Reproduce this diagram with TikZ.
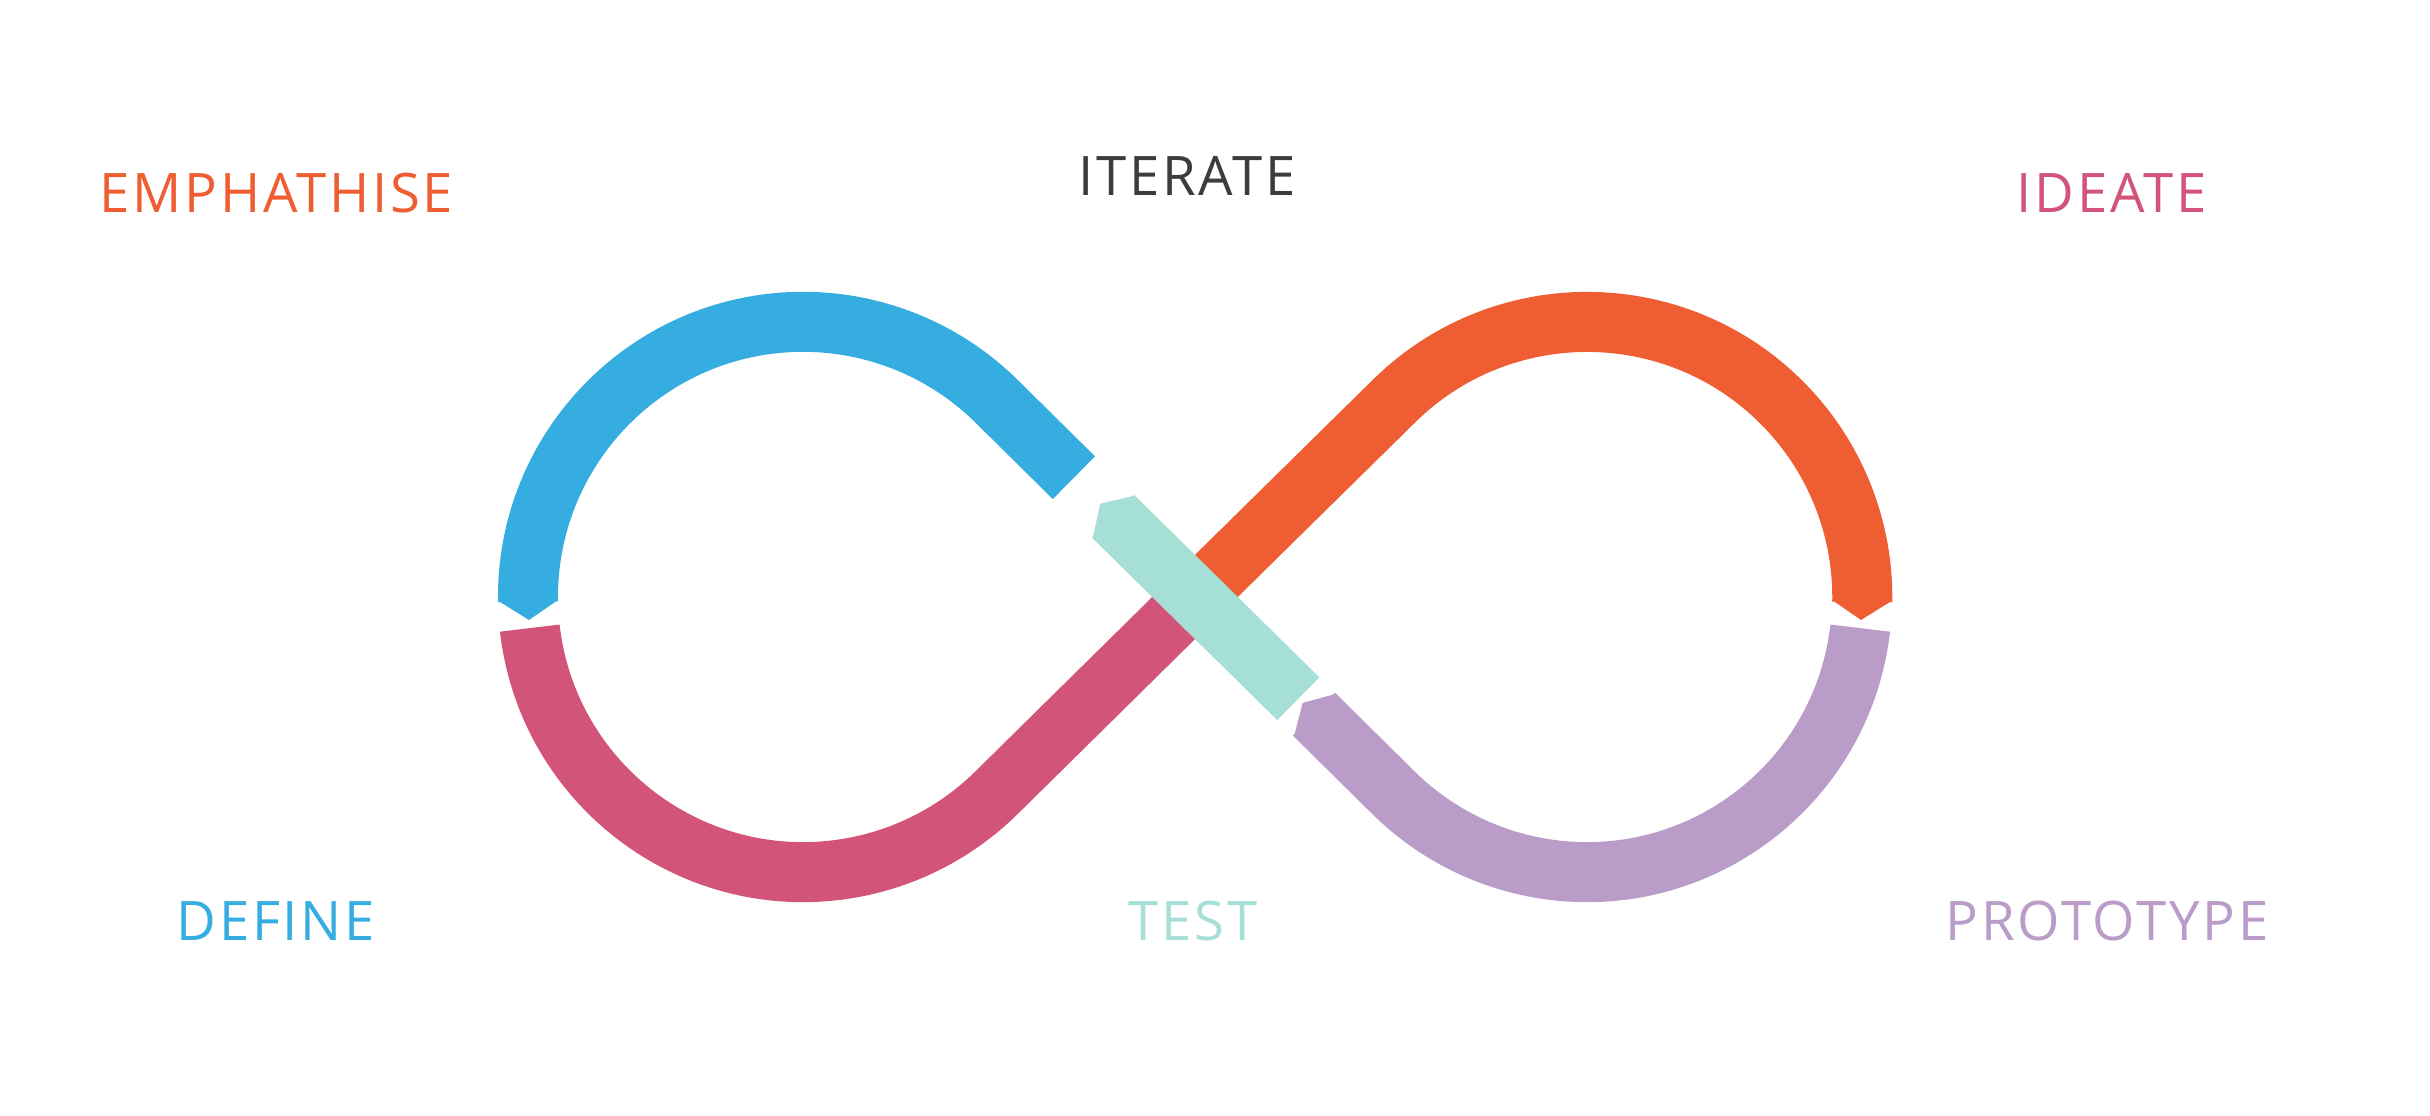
\documentclass[tikz,border=0pt]{standalone}
\usepackage{fontspec}
\setmainfont{Open Sans}
\newfontfamily\stagefont[LetterSpace=5]{Open Sans}

\definecolor{dtblue}{HTML}{36ADE0}
\definecolor{dtpink}{HTML}{D35479}
\definecolor{dtorange}{HTML}{EF5D32}
\definecolor{dtpurple}{HTML}{BA9CC9}
\definecolor{dtteal}{HTML}{A6DFD6}
\definecolor{dtgrey}{HTML}{3C3C3C}

\tikzset{
  band/.style={line width=6mm, line cap=butt},
  stage/.style={anchor=base west, inner sep=0pt,
    font=\stagefont\fontsize{15.5}{18}\selectfont},
}

\begin{document}
\begin{tikzpicture}[x=0.01cm, y=0.01cm]

  % ───────── Frame (origin at the crossing) ─────────
  \useasboundingbox (-1195,-519) rectangle (1235,597);

  % ───────── Loops ─────────
  % Loop centres at x = -392 / 392, centre line R = 275, band 60 wide
  % Diagonals are the inner tangents, tangent points at (±199.1, ±196.0)

  % upper left quarter + down-going diagonal
  \draw[band, dtblue] ([shift={(-392,0)}]181:275)
    arc[start angle=181, end angle=45.45, radius=2.75cm] -- (-121.1,119.3);
  % lower left loop + up-going diagonal (ends under the crossing)
  \draw[band, dtpink] ([shift={(-392,0)}]186.5:275)
    arc[start angle=186.5, end angle=314.55, radius=2.75cm] -- (0,0);
  % up-going diagonal + upper right loop
  \draw[band, dtorange] (0,0) -- (199.1,196.0)
    arc[start angle=134.55, end angle=-1, radius=2.75cm];
  % lower right loop + diagonal back towards the crossing
  \draw[band, dtpurple] ([shift={(392,0)}]-6.5:275)
    arc[start angle=-6.5, end angle=-134.55, radius=2.75cm] -- (119.0,-117.2);

  % ───────── Pointed ends ─────────
  \fill[dtblue] ([shift={(-392,0)}]180.7:305) -- ([shift={(-392,0)}]184.8:275)
    -- ([shift={(-392,0)}]180.7:245) -- cycle;
  \fill[dtorange] ([shift={(392,0)}]-0.7:305) -- ([shift={(392,0)}]-4.8:275)
    -- ([shift={(392,0)}]-0.7:245) -- cycle;

  % ───────── Crossing bar (along the down-going diagonal) ─────────
  \begin{scope}[rotate=-44.55]
    \fill[dtpurple] (168.5,30) -- (151,0) -- (168.5,-30) -- cycle;
    \draw[band, dtteal] (-115,0) -- (145,0);
    \fill[dtteal] (-114,30) -- (-133,0) -- (-114,-30) -- cycle;
  \end{scope}

  % ───────── Stage labels ─────────
  \node[stage, text=dtorange] (emphathise) at (-1096,384) {EMPHATHISE};
  \node[stage, text=dtgrey]   (iterate)    at (-117,401)  {ITERATE};
  \node[stage, text=dtpink]   (ideate)     at (821,384)   {IDEATE};
  \node[stage, text=dtblue]   (define)     at (-1019,-344) {DEFINE};
  \node[stage, text=dtteal]   (test)       at (-67,-344)  {TEST};
  \node[stage, text=dtpurple] (prototype)  at (750,-344)  {PROTOTYPE};

\end{tikzpicture}
\end{document}
